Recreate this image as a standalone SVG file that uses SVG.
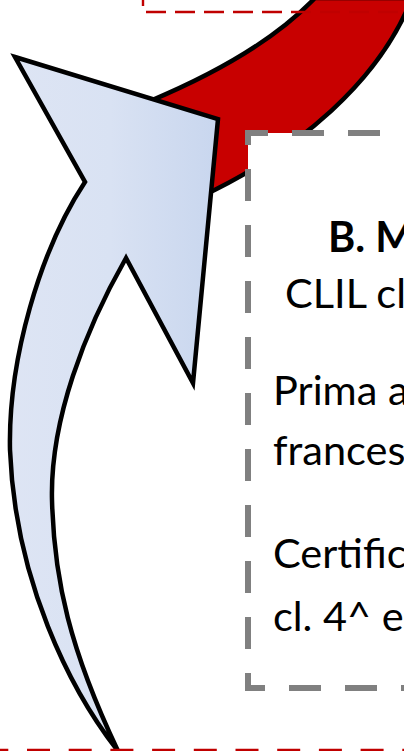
<svg xmlns="http://www.w3.org/2000/svg" width="404" height="751" viewBox="0 0 404 751">
  <defs>
    <linearGradient id="blueFill" gradientUnits="userSpaceOnUse" x1="0" y1="0" x2="220" y2="0">
      <stop offset="0" stop-color="#dee5f4"/>
      <stop offset="0.5" stop-color="#d9e2f3"/>
      <stop offset="1" stop-color="#c8d6ee"/>
    </linearGradient>
  </defs>
  <style>
    .arrow-outline { stroke: #000000; stroke-width: 4.5; stroke-linejoin: miter; }
    .red-dash { fill: none; stroke: #c00000; stroke-width: 2.4; }
    .gray-dash { fill: none; stroke: #808080; stroke-width: 6; stroke-dasharray: 32 24; }
    .txt { font-family: Lato, "Liberation Sans", sans-serif; font-size: 41.5px; fill: #000000; }
    .bold { font-weight: bold; }
  </style>

  <g id="connectors">
    <path id="red-arrow" class="arrow-outline" fill="#c80000"
          d="M 150 101 C 200 80, 270 45, 315 -2 L 412 -2 C 380 80, 300 150, 200 197 L 150 150 Z"/>
  </g>

  <g id="node-top-box">
    <rect x="143" y="-20" width="300" height="32" fill="#ffffff" class="red-dash" stroke-dasharray="20 9"/>
  </g>

  <g id="node-b">
    <rect x="248" y="133" width="200" height="555" fill="#ffffff"/>
    <path class="gray-dash" stroke-dashoffset="16" d="M 420 133 H 248 V 688 H 420"/>
    <text class="txt bold" x="328" y="252">B. M</text>
    <text class="txt" x="285" y="308">CLIL cl</text>
    <text class="txt" x="273" y="405">Prima a</text>
    <text class="txt" x="273" y="465">frances</text>
    <text class="txt" x="273" y="568">Certific</text>
    <text class="txt" x="273" y="631">cl. 4^ e</text>
  </g>

  <g id="blue-arrow-group">
    <path id="blue-arrow" class="arrow-outline" fill="url(#blueFill)"
          d="M 15 57 L 218 119 L 193 383 L 126 258 C 85 330, 50 420, 52 500 C 54 580, 70 650, 118 751 C 70 690, 15 580, 10 450 C 8 360, 40 250, 85 182 Z"/>
  </g>

  <g id="node-bottom-box">
    <path class="red-dash" stroke-dasharray="23 18.7" d="M -14.7 750 H 420"/>
  </g>
</svg>
